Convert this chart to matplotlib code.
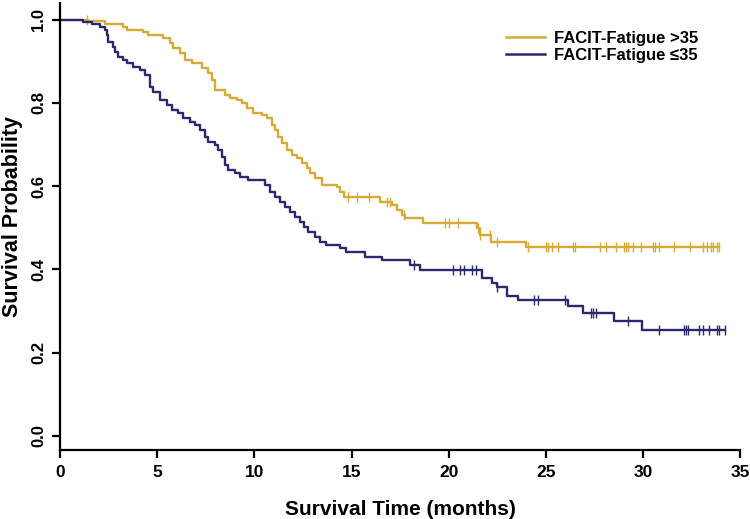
import numpy as np
import matplotlib
matplotlib.use("Agg")
import matplotlib.pyplot as plt

# ---- data ----
hi_times = [1.46, 2.32, 3.26, 3.43, 4.29, 4.55, 5.32, 5.66, 5.83, 6.18, 6.43, 6.78, 7.29, 7.63,
            7.80, 7.98, 8.50, 8.75, 9.09, 9.35, 9.61, 9.95, 10.38, 10.64, 10.90, 11.07, 11.24,
            11.41, 11.67, 11.93, 12.18, 12.44, 12.70, 12.87, 13.13, 13.47, 14.24, 14.41, 14.60,
            16.47, 17.07, 17.33, 17.58, 17.76, 18.70, 21.45, 21.60, 22.20, 24.00]
hi_surv = [0.996, 0.991, 0.983, 0.976, 0.971, 0.963, 0.955, 0.943, 0.931, 0.919, 0.903, 0.895,
           0.883, 0.871, 0.855, 0.831, 0.819, 0.811, 0.807, 0.799, 0.787, 0.775, 0.771, 0.763,
           0.747, 0.735, 0.719, 0.703, 0.687, 0.675, 0.667, 0.655, 0.643, 0.631, 0.619, 0.603,
           0.599, 0.587, 0.573, 0.563, 0.555, 0.543, 0.531, 0.523, 0.511, 0.499, 0.483, 0.466,
           0.455]
hi_censor = [1.40, 14.8, 15.3, 15.9, 16.8, 17.0, 17.7, 19.8, 20.0, 20.5, 21.5, 21.6, 22.1, 22.5,
             24.1, 25.0, 25.1, 25.3, 25.6, 26.4, 26.5, 27.8, 28.1, 28.6, 29.0, 29.1, 29.2, 29.5,
             29.9, 30.5, 30.6, 30.8, 31.6, 32.4, 33.1, 33.3, 33.5, 33.6, 33.8, 33.9]

lo_times = [1.20, 1.63, 2.06, 2.32, 2.40, 2.49, 2.74, 2.83, 3.00, 3.26, 3.43, 3.77, 4.12, 4.37,
            4.63, 4.80, 5.15, 5.49, 5.75, 6.09, 6.35, 6.69, 6.95, 7.20, 7.46, 7.63, 7.98, 8.15,
            8.32, 8.49, 8.66, 9.01, 9.26, 9.69, 10.55, 10.81, 11.07, 11.32, 11.58, 11.84, 12.09,
            12.35, 12.55, 12.75, 13.10, 13.40, 13.70, 14.40, 14.70, 15.70, 16.56, 18.01, 18.53,
            21.70, 22.22, 22.48, 22.99, 23.59, 26.16, 26.93, 28.48, 29.94]
lo_surv = [0.995, 0.991, 0.983, 0.975, 0.963, 0.947, 0.935, 0.923, 0.911, 0.903, 0.895, 0.887,
           0.879, 0.867, 0.839, 0.827, 0.807, 0.795, 0.783, 0.775, 0.763, 0.755, 0.747, 0.735,
           0.719, 0.707, 0.699, 0.687, 0.671, 0.651, 0.639, 0.631, 0.623, 0.615, 0.603, 0.587,
           0.575, 0.563, 0.551, 0.539, 0.527, 0.515, 0.503, 0.491, 0.479, 0.467, 0.459, 0.451,
           0.443, 0.431, 0.423, 0.411, 0.399, 0.379, 0.367, 0.357, 0.335, 0.327, 0.311, 0.295,
           0.275, 0.255]
lo_censor = [18.2, 20.2, 20.6, 20.8, 21.2, 21.4, 22.5, 24.4, 24.6, 26.0, 27.3, 27.4, 27.6, 29.2,
             30.8, 32.1, 32.2, 32.3, 32.9, 33.1, 33.4, 33.8, 33.9, 34.2]

labels = ["FACIT-Fatigue >35", "FACIT-Fatigue \u226435"]
colors = ["#D6AA35", "#2A2970"]

x_ticks = [0, 5, 10, 15, 20, 25, 30, 35]
y_ticks = [0.0, 0.2, 0.4, 0.6, 0.8, 1.0]

plt.rcParams['font.family'] = ['Liberation Sans', 'DejaVu Sans']

fig = plt.figure(figsize=(7.5, 5.19), dpi=100)
ax = fig.add_axes([0.08, 0.133, 0.907, 0.861])


def km_series(times, surv, end):
    t = np.concatenate([[0.0], np.asarray(times), [end]])
    s = np.concatenate([[1.0], np.asarray(surv), [surv[-1]]])
    return t, s


def surv_at(times, surv, tc):
    idx = np.searchsorted(np.asarray(times), tc, side='right') - 1
    s = np.asarray(surv)
    return np.where(idx < 0, 1.0, s[np.clip(idx, 0, None)])


for times, surv, cens, col, lab in [(hi_times, hi_surv, hi_censor, colors[0], labels[0]),
                                     (lo_times, lo_surv, lo_censor, colors[1], labels[1])]:
    end = max(cens[-1], times[-1])
    t, s = km_series(times, surv, end)
    ax.plot(t, s, drawstyle='steps-post', color=col, lw=1.7, label=lab)
    ax.plot(cens, surv_at(times, surv, np.asarray(cens)), ls='none', marker='|',
            ms=7, mew=1.0, color=col)

ax.set_xlim(0, 35)
ax.set_ylim(-0.034, 1.04)
ax.set_xticks(x_ticks)
ax.set_yticks(y_ticks)
ax.set_xticklabels([str(v) for v in x_ticks], fontsize=12.5, fontweight='bold')
ax.set_yticklabels([f"{v:.1f}" for v in y_ticks], fontsize=12, fontweight='bold',
                   rotation=90, va='center')
for sp in ['top', 'right']:
    ax.spines[sp].set_visible(False)
for sp in ['left', 'bottom']:
    ax.spines[sp].set_linewidth(1.6)
ax.tick_params(axis='both', width=1.6, length=6, direction='out')
ax.tick_params(axis='y', pad=4)
ax.tick_params(axis='x', pad=5)

ax.set_xlabel("Survival Time (months)", fontsize=15, fontweight='bold', labelpad=14)
ax.set_ylabel("Survival Probability", fontsize=15.5, fontweight='bold')
ax.yaxis.set_label_coords(-0.054, 0.523)

leg = ax.legend(loc='upper left', bbox_to_anchor=((506 - 60) / 680, (450 - 31) / 447),
                frameon=False, prop={'weight': 'bold', 'size': 12},
                handlelength=2.35, handletextpad=0.5, labelspacing=0.1,
                borderpad=0, borderaxespad=0)
for line in leg.get_lines():
    line.set_linewidth(1.8)

fig.savefig("out.png", dpi=100)
